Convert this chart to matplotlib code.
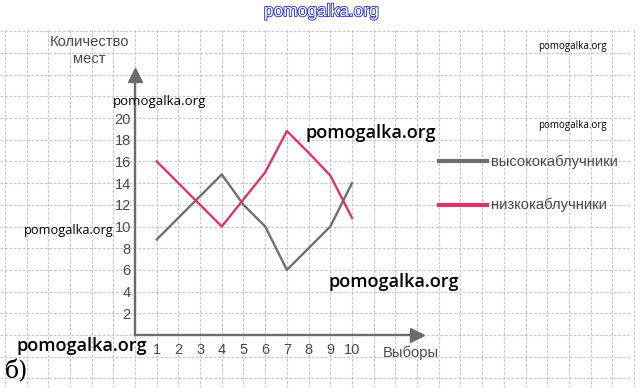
import matplotlib.pyplot as plt
import matplotlib.patheffects as pe
import numpy as np

# data
choices = [1, 2, 3, 4, 5, 6, 7, 8, 9, 10]
high_heels = [8.8, 10.8, 12.8, 14.8, 12.0, 10.0, 6.0, 8.0, 10.0, 14.0]
low_heels = [16.0, 14.0, 12.0, 10.0, 12.5, 15.0, 18.8, 16.8, 14.7, 10.8]
y_ticks = [2, 4, 6, 8, 10, 12, 14, 16, 18, 20]
series_names = ["высококаблучники", "низкокаблучники"]

gray = "#6f6f6f"
pink = "#dc3470"
axis_col = "#6b6b6b"
text_col = "#4a4a4a"

plt.rcParams["font.family"] = ["Liberation Sans", "DejaVu Sans"]

fig = plt.figure(figsize=(6.41, 3.88), dpi=100)
ax = fig.add_axes([0, 0, 1, 1])
# pixel mapping: x0 at 135px, 21.7 px per unit; y0 at 335px, 10.85 px per unit
ax.set_xlim(-135 / 21.7, (641 - 135) / 21.7)
ax.set_ylim(-53 / 10.85, 335 / 10.85)

# squared paper
grid_kw = dict(color="#c6c6c6", lw=0.8, linestyle=(0, (2.5, 1.5)), zorder=0)
ax.vlines(np.arange(-6, 24), -4.88, 28.2, **grid_kw)
ax.hlines(np.arange(-4, 29, 2), -6.2, 22.8, **grid_kw)

# axes through the origin
for side in ["top", "right"]:
    ax.spines[side].set_visible(False)
ax.spines["left"].set_position(("data", 0))
ax.spines["bottom"].set_position(("data", 0))
ax.spines["left"].set_bounds(0, 23.5)
ax.spines["bottom"].set_bounds(0, 12.8)
for side in ["left", "bottom"]:
    ax.spines[side].set_color(axis_col)
    ax.spines[side].set_linewidth(1.7)
ax.plot(0, 24.0, marker="^", ms=10, color=axis_col, clip_on=False, zorder=3)
ax.plot(13.0, 0, marker=">", ms=10, color=axis_col, clip_on=False, zorder=3)

ax.set_xticks(choices)
ax.set_yticks(y_ticks)
ax.tick_params(length=0, labelsize=10.5, labelcolor=text_col)
ax.tick_params(axis="x", pad=6)
ax.tick_params(axis="y", pad=3)

ax.plot(choices, high_heels, color=gray, lw=1.7, zorder=2)
ax.plot(choices, low_heels, color=pink, lw=1.7, zorder=2)

# legend drawn by hand as on the original
ax.plot([14.0, 16.2], [16.0, 16.0], color=gray, lw=3)
ax.plot([14.0, 16.2], [12.0, 12.0], color=pink, lw=3)
ax.text(16.4, 16.0, series_names[0], fontsize=10.6, color=text_col, va="center")
ax.text(16.4, 12.0, series_names[1], fontsize=10.6, color=text_col, va="center")

ax.text(-2.1, 26.2, "Количество\nмест", fontsize=10.6, color=text_col,
        ha="center", va="center", linespacing=1.3)
ax.text(11.4, -1.6, "Выборы", fontsize=10.6, color=text_col, va="center")
ax.text(-6.0, -3.4, "б)", fontsize=17, family="DejaVu Serif", va="center")

# watermarks
wm = "pomogalka.org"
ax.text(8.6, 29.8, wm, fontsize=12.5, color="white", ha="center", va="center",
        path_effects=[pe.withStroke(linewidth=1.3, foreground="#2a35d0")])
ax.text(18.6, 26.6, wm, fontsize=7, ha="left", va="center", family="Open Sans")
ax.text(18.6, 19.3, wm, fontsize=7, ha="left", va="center", family="Open Sans")
ax.text(-1.0, 21.5, wm, fontsize=9.5, ha="left", va="center", family="Open Sans")
ax.text(-5.1, 9.6, wm, fontsize=9.2, ha="left", va="center", family="Open Sans")
ax.text(7.85, 18.6, wm, fontsize=13, ha="left", va="center",
        family="Open Sans", weight="semibold")
ax.text(8.9, 4.9, wm, fontsize=13, ha="left", va="center",
        family="Open Sans", weight="semibold")
ax.text(-5.45, -1.0, wm, fontsize=13, ha="left", va="center",
        family="Open Sans", weight="semibold")

fig.savefig("out.png", dpi=100)
